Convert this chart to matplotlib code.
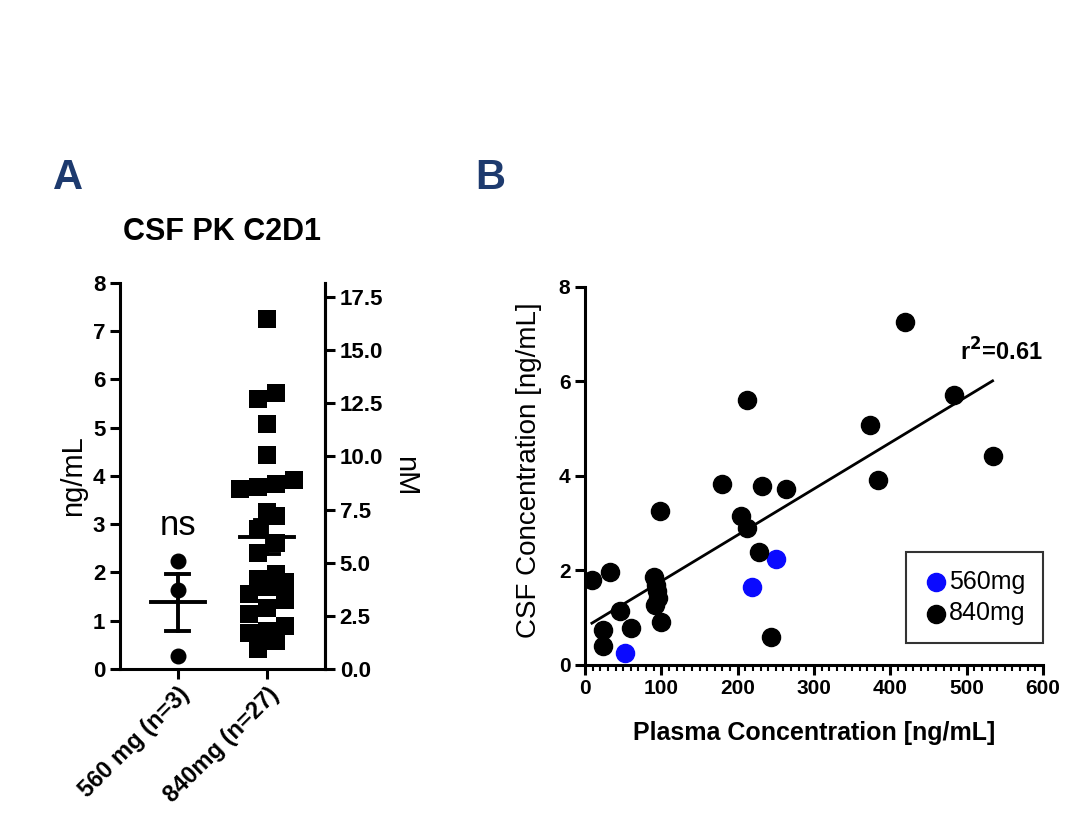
import matplotlib
matplotlib.use('Agg')
import matplotlib.pyplot as plt
import numpy as np

plt.rcParams['font.family'] = ['Liberation Sans', 'DejaVu Sans']

# plasma / csf concentrations (ng/mL)
plasma_560 = [52, 219, 250]
csf_560 = [0.26, 1.64, 2.24]

plasma_840 = [9, 33, 46, 24, 24, 60, 98, 91, 93, 94, 95, 92, 100,
              180, 205, 212, 228, 232, 263, 244, 212, 419, 483, 373, 384, 534]
csf_840 = [1.80, 1.96, 1.15, 0.74, 0.41, 0.78, 3.25, 1.87, 1.70, 1.56, 1.42, 1.26, 0.90,
           3.83, 3.16, 2.90, 2.40, 3.78, 3.73, 0.59, 5.60, 7.25, 5.72, 5.08, 3.92, 4.43]
# one point hidden under the mean bar in panel A
csf_840_extra = [2.62]

groups = ['560 mg (n=3)', '840mg (n=27)']
r2_text = 'r$^{\\mathbf{2}}$=0.61'
NM_PER_NGML = 2.27

navy = '#1d3a6e'
blue = '#0a0aff'


def row_spread(vals, row_h, step):
    # group close values into rows and spread each row symmetrically
    vals = np.asarray(vals)
    order = np.argsort(vals)
    res = np.zeros(len(vals))
    rows = []
    for i in order:
        if rows and vals[i] - vals[rows[-1][0]] <= row_h:
            rows[-1].append(i)
        else:
            rows.append([i])
    for r in rows:
        n = len(r)
        for j, i in enumerate(r):
            res[i] = (j - (n - 1) / 2) * step
    return res


fig = plt.figure(figsize=(10.8, 8.27), dpi=100)

# ---------------- panel A ----------------
ax = fig.add_axes([0.111, 0.191, 0.190, 0.467])
a560 = np.array(csf_560)
a840 = np.array(csf_840 + csf_840_extra)

ax.scatter(np.zeros(len(a560)), a560, s=110, marker='o', color='black', zorder=3)
offs = row_spread(a840, 0.3, 0.2)
ax.scatter(1 + offs, a840, s=165, marker='s', color='black', linewidths=0, zorder=3)

for i, v in enumerate([a560, a840]):
    m = v.mean()
    sem = v.std(ddof=1) / np.sqrt(len(v))
    ax.plot([i - 0.3, i + 0.3], [m, m], color='black', lw=2.8, zorder=4)
    ax.plot([i, i], [m - sem, m + sem], color='black', lw=2.8, zorder=4)
    for yy in [m - sem, m + sem]:
        ax.plot([i - 0.13, i + 0.13], [yy, yy], color='black', lw=2.8, zorder=4)

ax.text(0, 2.98, 'ns', ha='center', va='center', fontsize=25)

ax.set_xlim(-0.65, 1.65)
ax.set_ylim(0, 8)
ax.set_yticks(range(0, 9))
ax.set_xticks([0, 1])
ax.set_xticklabels(groups, rotation=45, ha='right', va='top', rotation_mode='anchor',
                   fontsize=17, fontweight='bold')
for lab in ax.get_yticklabels():
    lab.set_fontsize(16)
    lab.set_fontweight('bold')
ax.set_ylabel('ng/mL', fontsize=21, labelpad=4)
ax.spines['top'].set_visible(False)
for s in ['left', 'bottom', 'right']:
    ax.spines[s].set_linewidth(2.2)
ax.tick_params(width=2.2, length=7)
ax.tick_params(axis='x', pad=3)

ax2 = ax.twinx()
ax2.set_ylim(0, 8 * NM_PER_NGML)
ax2.set_yticks(np.arange(0, 17.6, 2.5))
ax2.set_yticklabels(['%.1f' % t for t in np.arange(0, 17.6, 2.5)],
                    fontsize=16, fontweight='bold')
ax2.set_ylabel('nM', fontsize=21, rotation=270, labelpad=26)
for s in ['top', 'left', 'bottom']:
    ax2.spines[s].set_visible(False)
ax2.spines['right'].set_linewidth(2.2)
ax2.tick_params(width=2.2, length=7)

fig.text(222 / 1080, 1 - 232 / 827, 'CSF PK C2D1', fontsize=22, fontweight='bold',
         ha='center', va='center')

# ---------------- panel B ----------------
bx = fig.add_axes([0.5417, 0.196, 0.424, 0.457])
px_all = np.array(plasma_560 + plasma_840)
cy_all = np.array(csf_560 + csf_840)
slope, icpt = np.polyfit(px_all, cy_all, 1)
xl = np.array([px_all.min(), px_all.max()])
bx.plot(xl, icpt + slope * xl, color='black', lw=2, zorder=2)

bx.scatter(plasma_560, csf_560, s=170, color=blue, zorder=3, label='560mg')
bx.scatter(plasma_840, csf_840, s=170, color='black', zorder=3, label='840mg')

bx.text(600, 6.62, r2_text, ha='right', va='center', fontsize=17, fontweight='bold')

bx.set_xlim(0, 600)
bx.set_ylim(0, 8)
bx.set_xticks(range(0, 601, 100))
bx.set_xticks(range(0, 601, 10), minor=True)
bx.set_yticks(range(0, 9, 2))
for lab in bx.get_xticklabels() + bx.get_yticklabels():
    lab.set_fontsize(15)
    lab.set_fontweight('bold')
bx.set_xlabel('Plasma Concentration [ng/mL]', fontsize=18, fontweight='bold', labelpad=16)
bx.set_ylabel('CSF Concentration [ng/mL]', fontsize=20, labelpad=6)
bx.yaxis.set_label_coords(-0.094, 0.515)
for s in ['top', 'right']:
    bx.spines[s].set_visible(False)
for s in ['left', 'bottom']:
    bx.spines[s].set_linewidth(2.2)
bx.tick_params(which='major', width=2.2, length=7)
bx.tick_params(which='minor', width=1.5, length=4)

leg = bx.legend(loc='lower right', bbox_to_anchor=(1.0, 0.058), borderaxespad=0,
                fontsize=18, frameon=True, fancybox=False, handletextpad=0.0,
                handlelength=1.0, borderpad=0.7, labelspacing=0.3, markerscale=1.0)
leg.get_frame().set_edgecolor('black')
leg.get_frame().set_linewidth(1.5)

fig.text(68 / 1080, 1 - 178 / 827, 'A', fontsize=30, fontweight='bold', color=navy,
         ha='center', va='center')
fig.text(490 / 1080, 1 - 178 / 827, 'B', fontsize=30, fontweight='bold', color=navy,
         ha='center', va='center')

plt.savefig('out.png', dpi=100)
